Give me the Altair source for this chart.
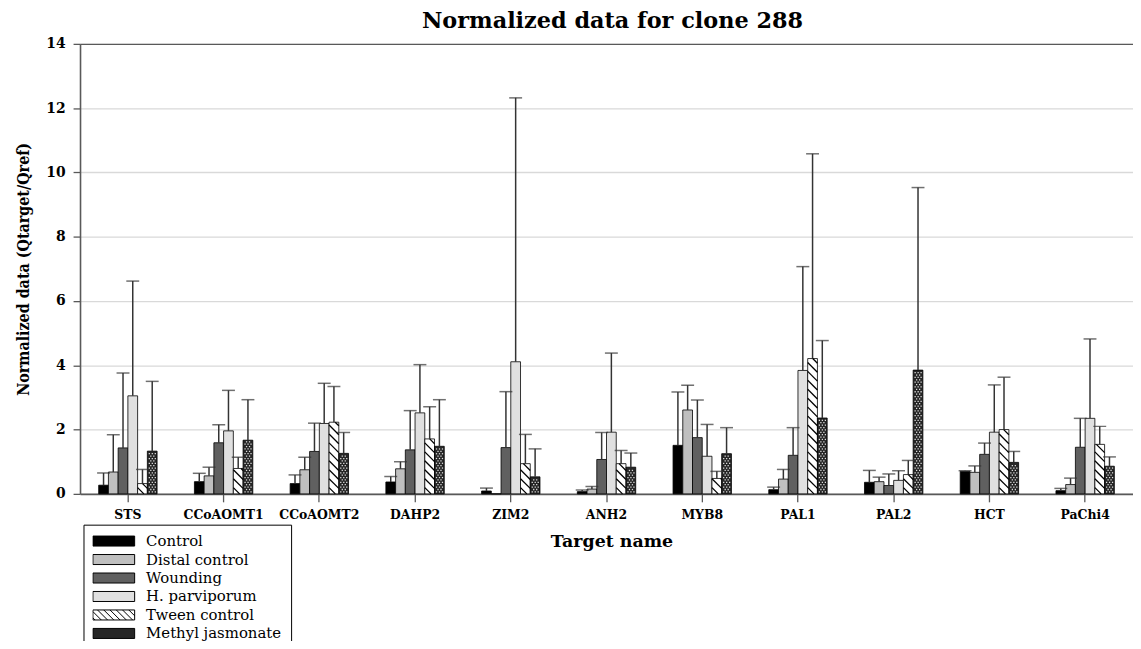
import altair as alt
import pandas as pd

genes = ["STS", "CCoAOMT1", "CCoAOMT2", "DAHP2", "ZIM2", "ANH2", "MYB8", "PAL1", "PAL2", "HCT", "PaChi4"]
series = ["Control", "Distal control", "Wounding", "H. parviporum", "Tween control", "Methyl jasmonate"]

control = [0.27, 0.38, 0.32, 0.37, 0.09, 0.07, 1.51, 0.13, 0.36, 0.70, 0.10]
control_err = [0.38, 0.26, 0.27, 0.17, 0.09, 0.05, 1.66, 0.08, 0.37, 0.02, 0.07]
distal = [0.68, 0.56, 0.75, 0.78, 0.00, 0.15, 2.61, 0.46, 0.38, 0.67, 0.29]
distal_err = [1.16, 0.27, 0.39, 0.22, 0.00, 0.08, 0.77, 0.30, 0.14, 0.20, 0.20]
wounding = [1.43, 1.59, 1.32, 1.37, 1.44, 1.07, 1.75, 1.20, 0.26, 1.23, 1.45]
wounding_err = [2.33, 0.56, 0.88, 1.22, 1.74, 0.84, 1.17, 0.86, 0.36, 0.35, 0.90]
hparv = [3.05, 1.96, 2.19, 2.52, 4.11, 1.92, 1.17, 3.84, 0.42, 1.92, 2.35]
hparv_err = [3.57, 1.26, 1.25, 1.50, 8.21, 2.46, 0.99, 3.23, 0.30, 1.47, 2.47]
tween = [0.32, 0.79, 2.23, 1.71, 0.94, 0.94, 0.48, 4.21, 0.60, 2.00, 1.54]
tween_err = [0.44, 0.35, 1.11, 1.00, 0.91, 0.41, 0.22, 6.37, 0.44, 1.63, 0.56]
meja = [1.33, 1.67, 1.26, 1.48, 0.53, 0.83, 1.25, 2.36, 3.85, 0.98, 0.86]
meja_err = [2.17, 1.26, 0.65, 1.45, 0.87, 0.44, 0.81, 2.41, 5.68, 0.34, 0.29]

fills = ["#000000", "#bfbfbf", "#606060", "#e0e0e0", "#ffffff", "#262626"]

values = [control, distal, wounding, hparv, tween, meja]
errors = [control_err, distal_err, wounding_err, hparv_err, tween_err, meja_err]

rows = []
for si, s in enumerate(series):
    for gi, g in enumerate(genes):
        v = values[si][gi]
        e = errors[si][gi]
        rows.append({"gene": g, "series": s, "value": v, "err": e, "top": round(v + e, 3)})
df = pd.DataFrame(rows)

# geometry of the plot
W, H = 1060, 453
P_INNER = 0.39
group_frac = 1 - P_INNER
sub = group_frac / len(series)
px_x = W / len(genes)
px_y = H / 14.0
GAP = 9.0  # hatch spacing (px)

# diagonal hatch segments for the Tween control bars (derived from the bar values)
hrows = []
ti = series.index("Tween control")
for gi, v in enumerate(tween):
    left = gi - group_frac / 2 + ti * sub
    bw = sub * px_x
    hb = v * px_y
    c = GAP * 0.7
    while c < hb + bw:
        x0 = max(0.0, c - hb)
        x1 = min(bw, c)
        if x1 > x0:
            hrows.append({"hx": left + x0 / px_x, "hx2": left + x1 / px_x,
                          "hy": (c - x0) / px_y, "hy2": (c - x1) / px_y})
        c += GAP
hatch_df = pd.DataFrame(hrows)

# dotted texture for the Methyl jasmonate bars (derived from the bar values)
drows = []
mi = series.index("Methyl jasmonate")
DSTEP = 3.0
for gi, v in enumerate(meja):
    left = gi - group_frac / 2 + mi * sub
    bw = sub * px_x
    hb = v * px_y
    r = 0
    yp = 2.0
    while yp < hb - 1.0:
        xp = 2.0 + (1.5 if r % 2 else 0.0)
        while xp < bw - 1.2:
            drows.append({"dx": left + xp / px_x, "dy": yp / px_y})
            xp += DSTEP
        yp += DSTEP * 0.8
        r += 1
dots_df = pd.DataFrame(drows)


def rect_path(h=0.24):
    return f"M-1,-{h}H1V{h}H-1Z"


def hatch_path(h=0.24, step=0.3):
    p = rect_path(h)
    d = 2 * h
    x0 = -1 - d + 0.1
    while x0 < 1:
        t0 = max(0.0, (-1 - x0) / d)
        t1 = min(1.0, (1 - x0) / d)
        if t1 > t0:
            p += f"M{x0 + t0 * d:.3f},{-h + t0 * d:.3f}L{x0 + t1 * d:.3f},{-h + t1 * d:.3f}"
        x0 += step
    return p


shapes = [rect_path(), rect_path(), rect_path(), rect_path(), hatch_path(), rect_path()]

SERIF = "DejaVu Serif"
SERIF_LIST = "DejaVu Serif, Liberation Serif, serif"
AX = "#595959"

fill_scale = alt.Scale(domain=series, range=fills)
y_scale = alt.Scale(domain=[0, 14], nice=False)
y_axis = alt.Axis(
    values=list(range(0, 15, 2)),
    grid=True,
    gridColor={"condition": {"test": "datum.value === 14", "value": AX}, "value": "#d9d9d9"},
    gridWidth=1.3,
    tickColor=AX, tickSize=7, tickWidth=1.3,
    domainColor=AX, domainWidth=1.6,
    labelFont=SERIF, labelFontWeight="bold", labelFontSize=14, labelColor="#000000",
    labelPadding=8,
    titleFont="DejaVu Serif Condensed, Liberation Serif", titleFontWeight="bold",
    titleFontSize=16, titleColor="#000000", titlePadding=14,
)
Y_TITLE = "Normalized data (Qtarget/Qref)"


def y_enc(field):
    return alt.Y(f"{field}:Q", scale=y_scale, axis=y_axis, title=Y_TITLE)


x_scale = alt.Scale(domain=genes, paddingInner=P_INNER, paddingOuter=P_INNER / 2)
x_axis = alt.Axis(
    labelAngle=0, labelFont=SERIF, labelFontWeight="bold", labelFontSize=12.5,
    labelColor="#000000", labelPadding=7,
    tickColor=AX, tickSize=8, tickWidth=1.3,
    domainColor=AX, domainWidth=1.6,
    titleFont=SERIF, titleFontWeight="bold", titleFontSize=17.5, titleColor="#000000",
    titlePadding=11, titleX=535,
)
x_enc = alt.X("gene:N", sort=genes, scale=x_scale, axis=x_axis, title="Target name")
xoff = alt.XOffset("series:N", sort=series, scale=alt.Scale(domain=series))

legend = alt.Legend(
    title=None, orient="none", legendX=3.5, legendY=484, direction="vertical",
    strokeColor="#000000", fillColor="#ffffff", padding=9,
    symbolSize=1764, clipHeight=15, rowPadding=2.6,
    symbolStrokeColor="#000000", symbolStrokeWidth=1,
    labelFont=SERIF_LIST, labelFontWeight="normal", labelFontSize=15, labelColor="#000000",
    labelOffset=11, labelLimit=300,
)
fill_enc = alt.Fill("series:N", scale=fill_scale, legend=legend)

base = alt.Chart(df)

bars = base.mark_bar(stroke="#000000", strokeWidth=0.8).encode(
    x=x_enc, xOffset=xoff, y=y_enc("value"), fill=fill_enc,
)
err = base.transform_filter("datum.err > 0").mark_rule(color="#333333", strokeWidth=1.5).encode(
    x=x_enc, xOffset=xoff, y=y_enc("value"), y2="top:Q",
)
cap = base.transform_filter("datum.err > 0").mark_tick(color="#333333", size=13, thickness=1.5).encode(
    x=x_enc, xOffset=xoff, y=y_enc("top"),
)
leg = base.transform_filter("false").mark_point(filled=True, opacity=1, stroke="#000000", strokeWidth=1).encode(
    x=x_enc, y=y_enc("value"),
    fill=fill_enc,
    shape=alt.Shape("series:N", scale=alt.Scale(domain=series, range=shapes), legend=legend),
)
inner = alt.layer(bars, err, cap, leg)

qx_scale = alt.Scale(domain=[-0.5, len(genes) - 0.5], nice=False, zero=False)
hatch = alt.Chart(hatch_df).mark_rule(color="#000000", strokeWidth=1.3).encode(
    x=alt.X("hx:Q", scale=qx_scale, axis=None),
    x2="hx2:Q",
    y=y_enc("hy"),
    y2="hy2:Q",
)
dots = alt.Chart(dots_df).mark_square(color="#ffffff", size=1.6, opacity=0.85).encode(
    x=alt.X("dx:Q", scale=qx_scale, axis=None),
    y=y_enc("dy"),
)
texture = alt.layer(hatch, dots)

chart = alt.layer(inner, texture).resolve_scale(x="independent").properties(
    width=W, height=H,
    autosize=alt.AutoSizeParams(type="none"),
    padding={"left": 72.5, "top": 34, "right": 0, "bottom": 146},
    title=alt.TitleParams("Normalized data for clone 288", font=SERIF, fontSize=22.5,
                          fontWeight="bold", color="#000000", offset=4, anchor="middle", dx=6),
).configure_view(stroke=None).configure_legend(labelFont=SERIF_LIST).configure(background="#ffffff")

chart.save("out.html", embed_options={"renderer": "svg", "actions": False})
